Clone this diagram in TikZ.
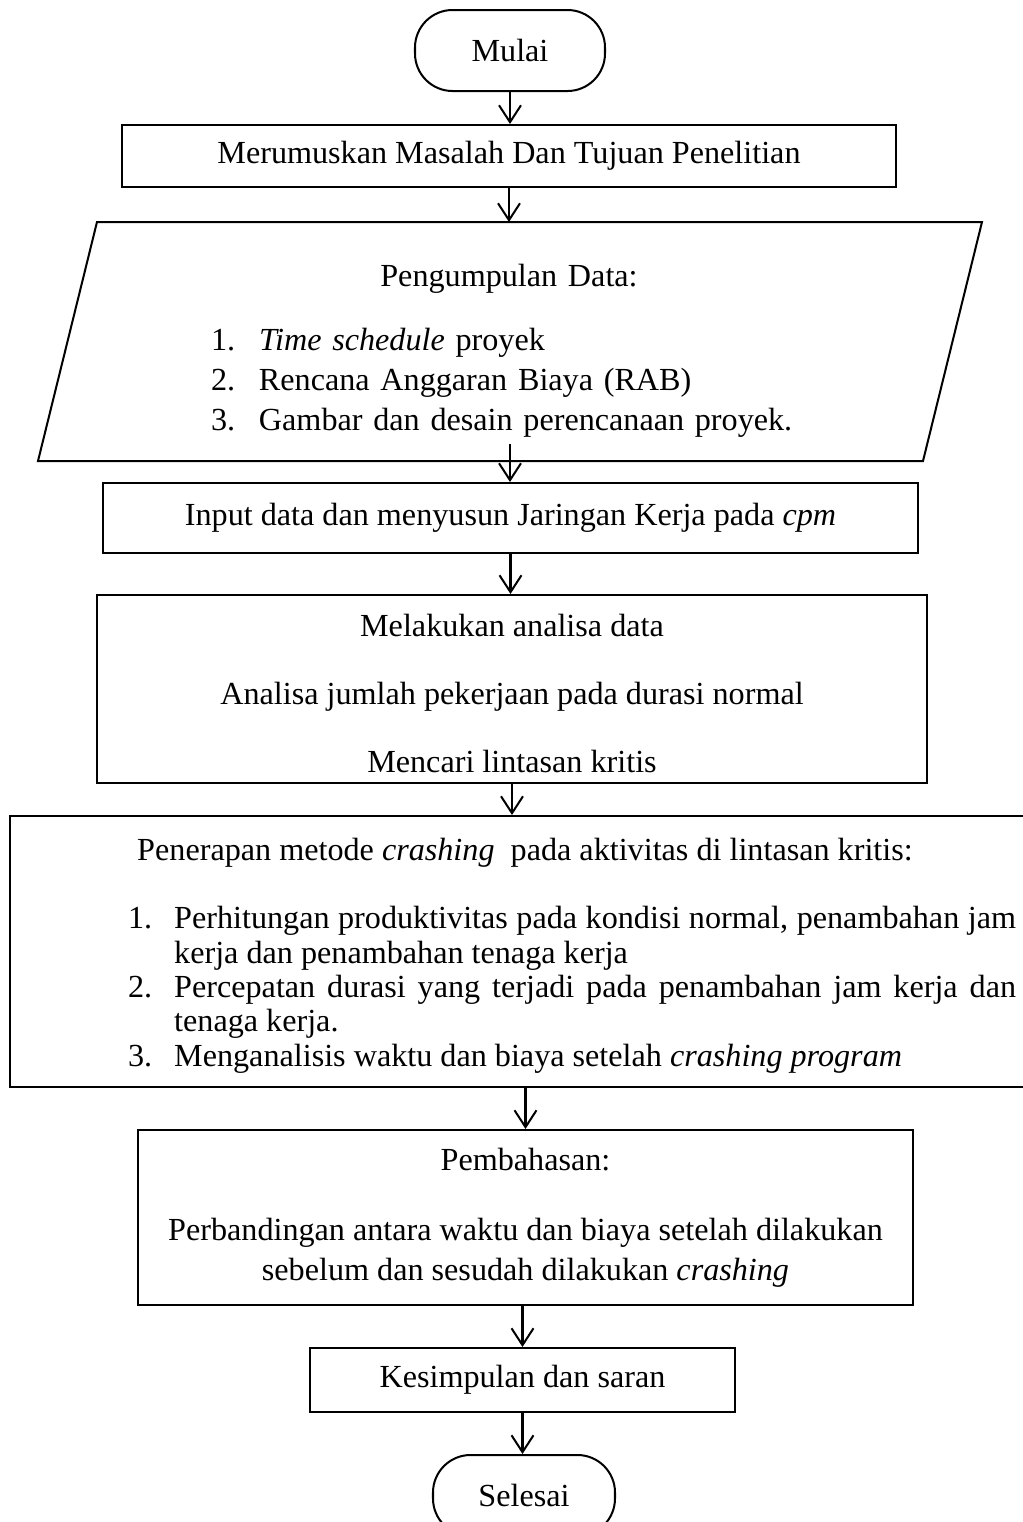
\documentclass[tikz,border=0pt]{standalone}
\usepackage{fontspec}
\setmainfont{Liberation Serif}
\usetikzlibrary{arrows.meta}

\begin{document}
\begin{tikzpicture}[x=0.373pt, y=-0.373pt,
  font=\fontsize{12}{12.8}\selectfont,
  line width=0.75pt,
  kotak/.style={draw, inner sep=0pt},
  terminal/.style={draw, inner sep=0pt, rounded corners=14pt,
    minimum width={182*\pxx}, minimum height={81*\pxx}},
  panah/.style={-{Straight Barb[length=6.3pt,width=8.2pt]}}]

% Unit of the drawing (one pixel of the sketch)
\def\pxx{0.373pt}

% Frame
\useasboundingbox (0,0) rectangle (1023,1522);

% Start
\node[terminal, minimum width={190*\pxx}] (mulai) at (510,50.5) {Mulai};

% Problem and aims
\node[kotak, minimum width={774*\pxx}, minimum height={62*\pxx}] (rumus) at (509,156)
  {Merumuskan Masalah Dan Tujuan Penelitian};

% Data collection (parallelogram)
\coordinate (dataTL) at (97,222);
\coordinate (dataTR) at (982,222);
\coordinate (dataBR) at (923,461);
\coordinate (dataBL) at (38,461);
\coordinate (dataOut) at (510,444);
\draw (dataTL) -- (dataTR) -- (dataBR) -- (dataBL) -- cycle;
\node[text width=222.3pt, inner sep=0pt] (data) at (509,352) {%
  {\centering Pengumpulan Data:\par}\vspace{11.1pt}
  \noindent\begin{tabular}[t]{@{}p{17.9pt}@{}l@{}}
  1. & \textit{Time schedule} proyek\\[2.1pt]
  2. & Rencana Anggaran Biaya (RAB)\\[2.1pt]
  3. & Gambar dan desain perencanaan proyek.
  \end{tabular}};

% Input and network
\node[kotak, minimum width={815*\pxx}, minimum height={70*\pxx}] (input) at (510.5,518)
  {Input data dan menyusun Jaringan Kerja pada \textit{cpm}};

% Analysis
\node[kotak, align=center, minimum width={830*\pxx}, minimum height={188*\pxx}] (analisa) at (512,689)
  {\rule{0pt}{11.5pt}Melakukan analisa data\\[12.5pt] Analisa jumlah pekerjaan pada durasi normal\\[12.5pt] Mencari lintasan kritis};

% Crashing
\node[kotak, text width=363.3pt, minimum width={1030*\pxx}, minimum height={271*\pxx}] (crash) at (525,951.5) {%
  \spaceskip=0.25em plus 0.12em minus 0.12em
  {\centering\rule{0pt}{12.8pt}Penerapan metode \textit{crashing}\ \ pada aktivitas di lintasan kritis:\par}\vspace{12.5pt}
  \noindent\hspace*{33.6pt}\begin{tabular}[t]{@{}p{17.2pt}@{}p{314pt}@{}}
  1. & Perhitungan produktivitas pada kondisi normal, penambahan jam\linebreak kerja dan penambahan tenaga kerja\\
  2. & Percepatan durasi yang terjadi pada penambahan jam kerja dan\linebreak tenaga kerja.\\
  3. & Menganalisis waktu dan biaya setelah \textit{crashing program}
  \end{tabular}};

% Discussion
\node[kotak, align=center, minimum width={775*\pxx}, minimum height={175*\pxx}] (bahas) at (525.5,1217.5)
  {Pembahasan:\\[13.3pt] Perbandingan antara waktu dan biaya setelah dilakukan\\[2.1pt] sebelum dan sesudah dilakukan \textit{crashing}};

% Conclusion
\node[kotak, minimum width={425*\pxx}, minimum height={64*\pxx}] (simpul) at (522.5,1380) {Kesimpulan dan saran};

% End
\node[terminal] (selesai) at (524,1495.5) {Selesai};

% Flow
\draw[panah] (mulai.south) -- (mulai.south |- rumus.north);
\draw[panah] (rumus.south) -- (rumus.south |- dataTL);
\draw[panah] (dataOut) -- (dataOut |- input.north);
\draw[panah] (input.south) -- (input.south |- analisa.north);
\draw[panah] (analisa.south) -- (analisa.south |- crash.north);
\draw[panah] (bahas.north |- crash.south) -- (bahas.north);
\draw[panah] (simpul.north |- bahas.south) -- (simpul.north);
\draw[panah] (simpul.south) -- (simpul.south |- selesai.north);
\end{tikzpicture}
\end{document}
